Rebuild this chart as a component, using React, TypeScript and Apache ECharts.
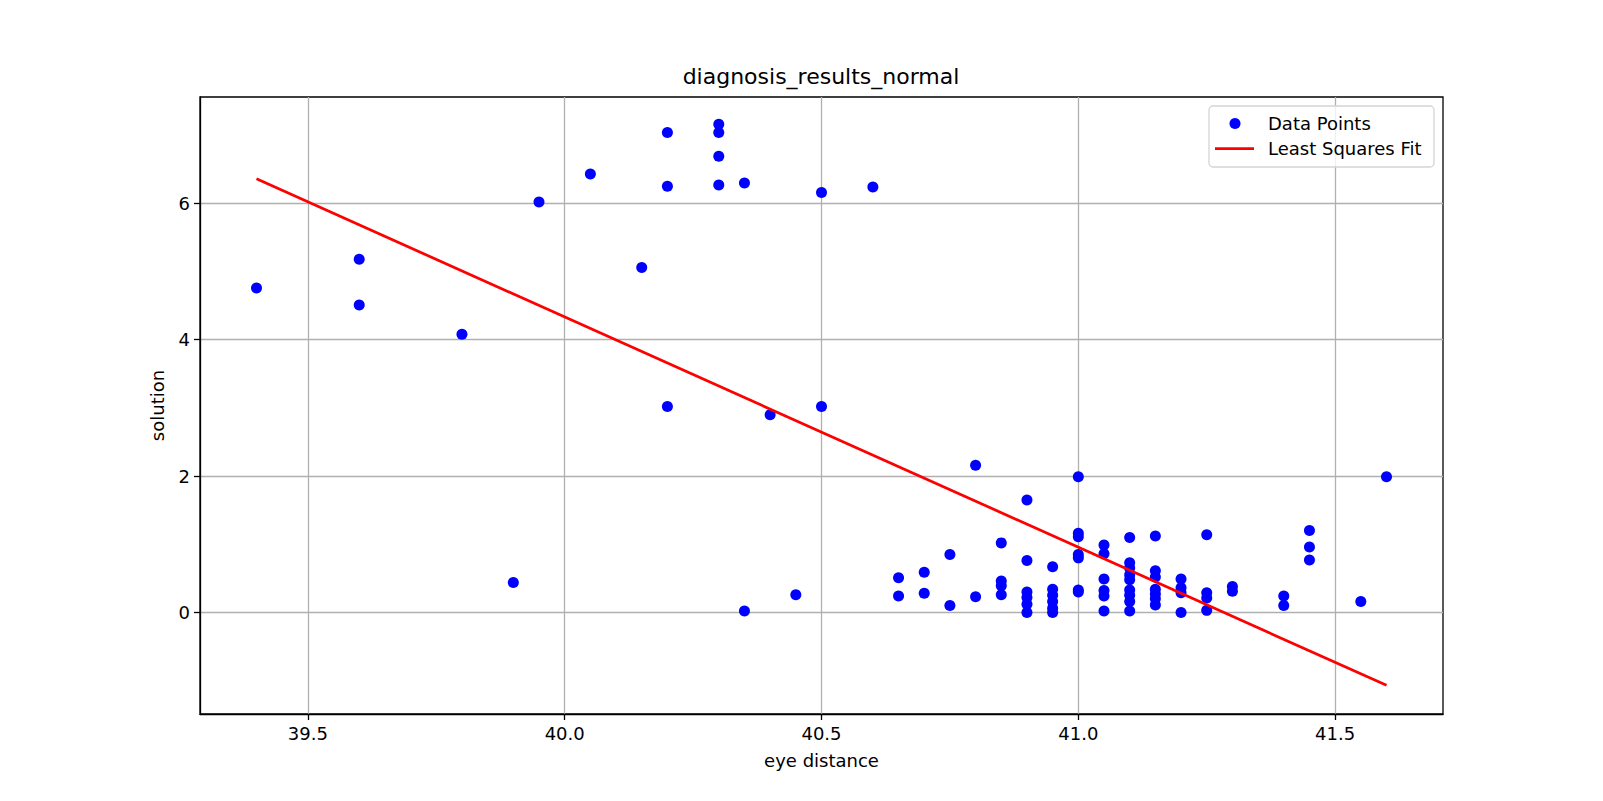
import React, { useEffect, useRef } from "react";
import * as echarts from "echarts";

const eyeDistance = [
  39.4, 39.6, 39.6, 39.8, 39.9, 39.95, 40.05, 40.15,
  40.2, 40.2, 40.2, 40.3, 40.3, 40.3, 40.3, 40.35, 40.35, 40.4, 40.45,
  40.5, 40.5, 40.6,
  40.65, 40.65, 40.7, 40.7, 40.75, 40.75, 40.8, 40.8,
  40.85, 40.85, 40.85, 40.85,
  40.9, 40.9, 40.9, 40.9, 40.9, 40.9,
  40.95, 40.95, 40.95, 40.95, 40.95, 40.95,
  41.0, 41.0, 41.0, 41.0, 41.0, 41.0, 41.0,
  41.05, 41.05, 41.05, 41.05, 41.05, 41.05,
  41.1, 41.1, 41.1, 41.1, 41.1, 41.1, 41.1, 41.1, 41.1,
  41.15, 41.15, 41.15, 41.15, 41.15, 41.15, 41.15,
  41.2, 41.2, 41.2, 41.2,
  41.25, 41.25, 41.25, 41.25,
  41.3, 41.3, 41.4, 41.4,
  41.45, 41.45, 41.45, 41.55, 41.6,
];

const solution = [
  4.76, 5.18, 4.51, 4.08, 0.44, 6.02, 6.43, 5.06,
  7.04, 6.25, 3.02, 7.16, 7.04, 6.69, 6.27, 6.3, 0.02, 2.9, 0.26,
  6.16, 3.02, 6.24,
  0.51, 0.24, 0.59, 0.28, 0.85, 0.1, 2.16, 0.23,
  1.02, 0.46, 0.39, 0.26,
  1.65, 0.76, 0.3, 0.22, 0.12, 0.0,
  0.67, 0.34, 0.25, 0.16, 0.06, 0.0,
  1.99, 1.16, 1.11, 0.85, 0.8, 0.33, 0.3,
  0.99, 0.86, 0.49, 0.32, 0.24, 0.02,
  1.1, 0.73, 0.65, 0.55, 0.48, 0.33, 0.25, 0.16, 0.02,
  1.12, 0.61, 0.52, 0.34, 0.27, 0.2, 0.11,
  0.49, 0.36, 0.29, 0.0,
  1.14, 0.29, 0.21, 0.03,
  0.38, 0.31, 0.24, 0.1,
  1.2, 0.96, 0.77, 0.16, 1.99,
];

const fitX = [39.4, 41.6];
const fitY = [6.36, -1.07];

const xTicks = [39.5, 40.0, 40.5, 41.0, 41.5];
const yTicks = [0, 2, 4, 6];

const FONT = "DejaVu Sans";

export default function App() {
  const ref = useRef<HTMLDivElement>(null);
  useEffect(() => {
    const chart = echarts.init(ref.current!, null, { renderer: "svg" });
    const points = eyeDistance.map((x, i) => [x, solution[i]]);
    const fit = fitX.map((x, i) => [x, fitY[i]]);
    chart.setOption({
      animation: false,
      backgroundColor: "#ffffff",
      textStyle: { fontFamily: FONT },
      title: {
        text: "diagnosis_results_normal",
        left: 821,
        top: 65,
        textAlign: "center",
        padding: 0,
        textStyle: { fontFamily: FONT, fontSize: 22, fontWeight: "normal", color: "#000" },
      },
      grid: {
        left: 200,
        right: 160,
        top: 97,
        bottom: 87,
        show: true,
        borderColor: "#000",
        borderWidth: 1.3,
        backgroundColor: "transparent",
      },
      xAxis: {
        type: "value",
        min: 39.29,
        max: 41.71,
        splitNumber: 5,
        name: "eye distance",
        nameLocation: "middle",
        nameGap: 37,
        nameTextStyle: { fontFamily: FONT, fontSize: 18, color: "#000" },
        axisLine: { show: true, onZero: false, lineStyle: { color: "#000", width: 1.3 } },
        axisTick: { show: true, inside: false, length: 6, lineStyle: { color: "#000", width: 1.3 }, customValues: xTicks },
        axisLabel: {
          margin: 10,
          fontFamily: FONT,
          fontSize: 18,
          color: "#000",
          customValues: xTicks,
          formatter: (v: number) => v.toFixed(1),
        },
        splitLine: { show: true, lineStyle: { color: "#b0b0b0", width: 1.3 } },
      },
      yAxis: {
        type: "value",
        min: -1.49,
        max: 7.56,
        splitNumber: 5,
        name: "solution",
        nameLocation: "middle",
        nameGap: 34,
        nameRotate: 90,
        nameTextStyle: { fontFamily: FONT, fontSize: 18, color: "#000" },
        axisLine: { show: true, onZero: false, lineStyle: { color: "#000", width: 1.3 } },
        axisTick: { show: true, inside: false, length: 6, lineStyle: { color: "#000", width: 1.3 }, customValues: yTicks },
        axisLabel: {
          margin: 10,
          fontFamily: FONT,
          fontSize: 18,
          color: "#000",
          customValues: yTicks,
          formatter: (v: number) => v.toFixed(0),
        },
        splitLine: { show: true, lineStyle: { color: "#b0b0b0", width: 1.3 } },
      },
      series: [
        {
          name: "Data Points",
          type: "scatter",
          data: points,
          symbol: "circle",
          symbolSize: 11,
          itemStyle: { color: "#0000ff", opacity: 1 },
          z: 2,
        },
        {
          name: "Least Squares Fit",
          type: "line",
          data: fit,
          showSymbol: false,
          symbol: "none",
          lineStyle: { color: "#ff0000", width: 2.75 },
          z: 3,
        },
      ],
      graphic: [
        {
          type: "rect",
          shape: { x: 1209, y: 106, width: 225, height: 61, r: 4 },
          style: { fill: "rgba(255,255,255,0.8)", stroke: "#d4d4d4", lineWidth: 1.3 },
          z: 100,
        },
        {
          type: "circle",
          shape: { cx: 1235, cy: 123.5, r: 5.5 },
          style: { fill: "#0000ff" },
          z: 101,
        },
        {
          type: "text",
          x: 1268,
          y: 123.5,
          style: { text: "Data Points", fontFamily: FONT, fontSize: 18, fill: "#000", verticalAlign: "middle", align: "left" },
          z: 101,
        },
        {
          type: "line",
          shape: { x1: 1215, y1: 148.5, x2: 1254, y2: 148.5 },
          style: { stroke: "#ff0000", lineWidth: 2.75 },
          z: 101,
        },
        {
          type: "text",
          x: 1268,
          y: 148.5,
          style: { text: "Least Squares Fit", fontFamily: FONT, fontSize: 18, fill: "#000", verticalAlign: "middle", align: "left" },
          z: 101,
        },
      ],
    });
    return () => chart.dispose();
  }, []);
  return (
    <div
      ref={ref}
      style={{ position: "absolute", left: 0, top: 0, width: 1603, height: 801, background: "#fff" }}
    />
  );
}
